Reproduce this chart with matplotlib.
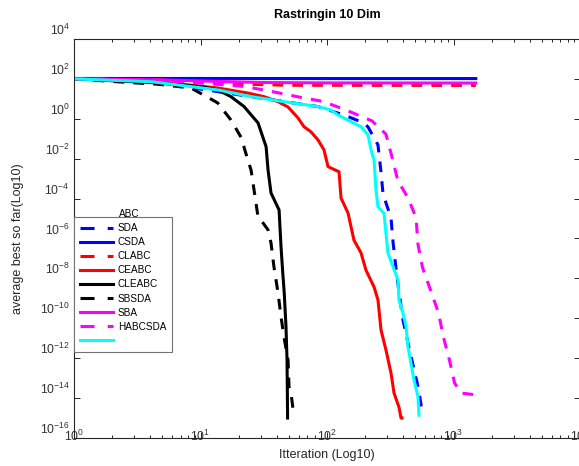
import matplotlib
matplotlib.use('Agg')
import matplotlib.pyplot as plt
import matplotlib.transforms as mtrans
from matplotlib.lines import Line2D
from matplotlib.ticker import NullLocator, LogLocator

plt.rcParams['font.family'] = ['Liberation Sans', 'DejaVu Sans']
plt.rcParams['mathtext.fontset'] = 'custom'
plt.rcParams['mathtext.rm'] = 'Liberation Sans'
plt.rcParams['mathtext.it'] = 'Liberation Sans:italic'
plt.rcParams['mathtext.bf'] = 'Liberation Sans:bold'
plt.rcParams['axes.unicode_minus'] = False

# values (iteration, average best so far)
sda_it = [1, 4.1, 25.1, 84.9, 136.1, 195.9, 210.9, 252.9, 267.3, 277.3, 320.6,
          332.7, 350.8, 370.7, 399.0, 436.5, 478.6, 533.3, 563.6]
sda_val = [100, 72, 12.9, 4.1, 1.55, 0.62, 0.39, 0.049, 2.1e-3, 1.7e-4, 1.07e-5,
           6.6e-7, 3.3e-8, 2.1e-9, 8.1e-11, 5.8e-12, 4.6e-13, 2.3e-14, 2.2e-15]

csda_it = [1, 10, 100, 1500]
csda_val = [105, 105, 104, 104]

clabc_it = [1, 5, 10, 20, 50, 1500]
clabc_val = [100, 89, 72, 55, 48, 47]

ceabc_it = [1, 4.1, 13.7, 23.7, 31.8, 41.0, 49.2, 59.0, 65.8, 74.8, 84.9, 94.6,
            101.9, 124.5, 129.1, 146.6, 163.3, 185.8, 203.2, 235.5, 252.9, 267.3,
            292.4, 320.6, 338.8, 370.7, 384.6, 391.7]
ceabc_val = [100, 79, 35, 19.5, 12.9, 7.2, 3.9, 1.1, 0.40, 0.22, 0.087, 0.028,
             4.0e-3, 2.2e-3, 1.07e-4, 1.9e-5, 8.3e-7, 1.9e-7, 2.6e-8, 3.7e-9,
             8.3e-10, 2.6e-11, 2.6e-12, 1.8e-13, 1.8e-14, 3.5e-15, 1.0e-15, 1.0e-15]

cleabc_it = [1, 4.1, 10.1, 13.7, 17.4, 22.1, 28.5, 33.0, 34.2, 36.1, 41.8, 43.3,
             44.7, 45.9, 47.4, 48.3, 48.6, 48.8]
cleabc_val = [100, 65, 41, 28, 12.9, 4.1, 0.62, 0.040, 2.7e-3, 1.9e-4, 2.7e-5,
              3.9e-7, 1.9e-8, 1.9e-9, 3.8e-11, 8.1e-13, 1.8e-14, 1.0e-15]

sbsda_it = [1, 2.8, 4.6, 8.4, 11.7, 13.7, 17.4, 20.9, 23.7, 25.1, 26.5, 28.5,
            31.2, 34.2, 36.1, 38.1, 41.0, 43.3, 45.7, 49.2, 50.1, 51.9, 54.8]
sbsda_val = [100, 65, 54, 35, 11, 6.2, 0.87, 0.12, 8.5e-3, 2.7e-3, 2.7e-4, 1.2e-5,
             6.0e-6, 2.7e-6, 5.9e-7, 3.7e-8, 1.9e-9, 1.2e-10, 1.15e-11, 8.1e-13,
             3.6e-14, 1.8e-14, 1.26e-15]

sba_it = [1, 5, 10, 30, 100, 1500]
sba_val = [100, 89, 79, 66, 63, 62]

habcsda_it = [1, 4.1, 10.1, 22.1, 34.8, 56.9, 92.9, 141.3, 227.0, 292.4, 326.6,
              363.9, 436.5, 505.8, 523.6, 568.9, 657.7, 760.3, 833.7, 929.0,
              1018.6, 1145.5, 1506.6]
habcsda_val = [100, 89, 62, 42, 25, 13.2, 7.4, 2.75, 0.78, 0.17, 0.012, 7.6e-4,
               1.1e-4, 1.1e-5, 5.2e-7, 3.5e-8, 2.6e-9, 1.9e-10, 1.1e-11, 8.1e-13,
               5.8e-14, 1.8e-14, 1.45e-14]

cyan_it = [1, 4.1, 13.7, 25.1, 45.7, 84.9, 107.6, 122.2, 154.9, 185.8, 210.9,
           222.8, 235.5, 243.8, 252.9, 282.5, 292.4, 303.4, 332.7, 363.9, 370.7,
           399.0, 421.7, 436.5, 461.3, 487.5, 523.6, 533.3]
cyan_val = [100, 72, 28, 12.9, 7.2, 4.1, 2.75, 1.55, 0.71, 0.40, 0.155, 0.028,
            8.5e-3, 2.7e-4, 3.9e-5, 1.8e-5, 1.9e-6, 1.9e-7, 3.9e-8, 8.3e-9,
            8.3e-10, 1.8e-10, 3.8e-11, 3.8e-12, 5.5e-13, 8.1e-14, 1.2e-14, 1.4e-15]

legend_labels = ['SDA', 'CSDA', 'CLABC', 'CEABC', 'CLEABC', 'SBSDA', 'SBA',
                 'HABCSDA', '']
ytick_vals = [1e4, 1e2, 1e0, 1e-2, 1e-4, 1e-6, 1e-8, 1e-10, 1e-12, 1e-14, 1e-16]
xtick_vals = [1e0, 1e1, 1e2, 1e3, 1e4]

dash = (0, (3.5, 3.0))
series = [
    (sda_it, sda_val, '#0000ff', dash),
    (csda_it, csda_val, '#0000ff', '-'),
    (clabc_it, clabc_val, '#ff0000', dash),
    (ceabc_it, ceabc_val, '#ff0000', '-'),
    (cleabc_it, cleabc_val, 'k', '-'),
    (sbsda_it, sbsda_val, 'k', dash),
    (sba_it, sba_val, '#ff00ff', '-'),
    (habcsda_it, habcsda_val, '#ff00ff', dash),
    (cyan_it, cyan_val, '#00ffff', '-'),
]

W, H = 579, 466
fig = plt.figure(figsize=(W / 100, H / 100), dpi=100)
ax = fig.add_axes([74 / W, 28 / H, 506 / W, 399 / H])

for it, val, c, ls in series:
    ax.plot(it, val, color=c, ls=ls, lw=2.2)

ax.set_xscale('log')
ax.set_yscale('log')
ax.set_xlim(1, 1e4)
ax.set_ylim(1e-16, 1e4)
ax.set_xticks(xtick_vals)
ax.set_yticks(ytick_vals)
ax.xaxis.set_minor_locator(LogLocator(base=10, subs=range(2, 10)))
ax.yaxis.set_minor_locator(NullLocator())
ax.tick_params(which='both', direction='in', top=True, right=True,
               color='0.15', width=0.7, labelsize=8.8, labelcolor='0.2', pad=3)
ax.tick_params(which='major', length=4.3)
ax.tick_params(which='minor', length=2.2)
for s in ax.spines.values():
    s.set_linewidth(0.8)
    s.set_color('0.15')

# labels sit a bit higher than their ticks
for lab in ax.get_yticklabels():
    lab.set_transform(lab.get_transform() +
                      mtrans.ScaledTranslation(0, 10 / 100, fig.dpi_scale_trans))
for lab in ax.get_xticklabels():
    lab.set_transform(lab.get_transform() +
                      mtrans.ScaledTranslation(0, 13 / 100, fig.dpi_scale_trans))

ax.set_title('Rastringin 10 Dim', fontsize=9, fontweight='bold', pad=15)
ax.set_xlabel('Itteration (Log10)', fontsize=9, color='0.15')
ax.xaxis.set_label_coords(0.5, -0.028)
ax.set_ylabel('average best so far(Log10)', fontsize=9, color='0.15')
ax.yaxis.set_label_coords(-0.099, 0.5)

handles = []
for it, val, c, ls in series:
    hls = (0, (4.6, 4.3)) if ls != '-' else '-'
    handles.append(Line2D([], [], color=c, ls=hls, lw=2.2))
leg = ax.legend(handles, legend_labels, loc='upper left',
                bbox_to_anchor=(0, (438 - 217) / 399), borderaxespad=0,
                fontsize=7.2, handlelength=3.3, handletextpad=0.5,
                labelspacing=0.41, borderpad=0.6, fancybox=False,
                edgecolor='0.45', framealpha=1)
leg.get_frame().set_linewidth(0.8)
fig.text(119 / W, 1 - 214 / H, 'ABC', fontsize=7.2, va='center', ha='left')

fig.savefig('out.png', dpi=100)
